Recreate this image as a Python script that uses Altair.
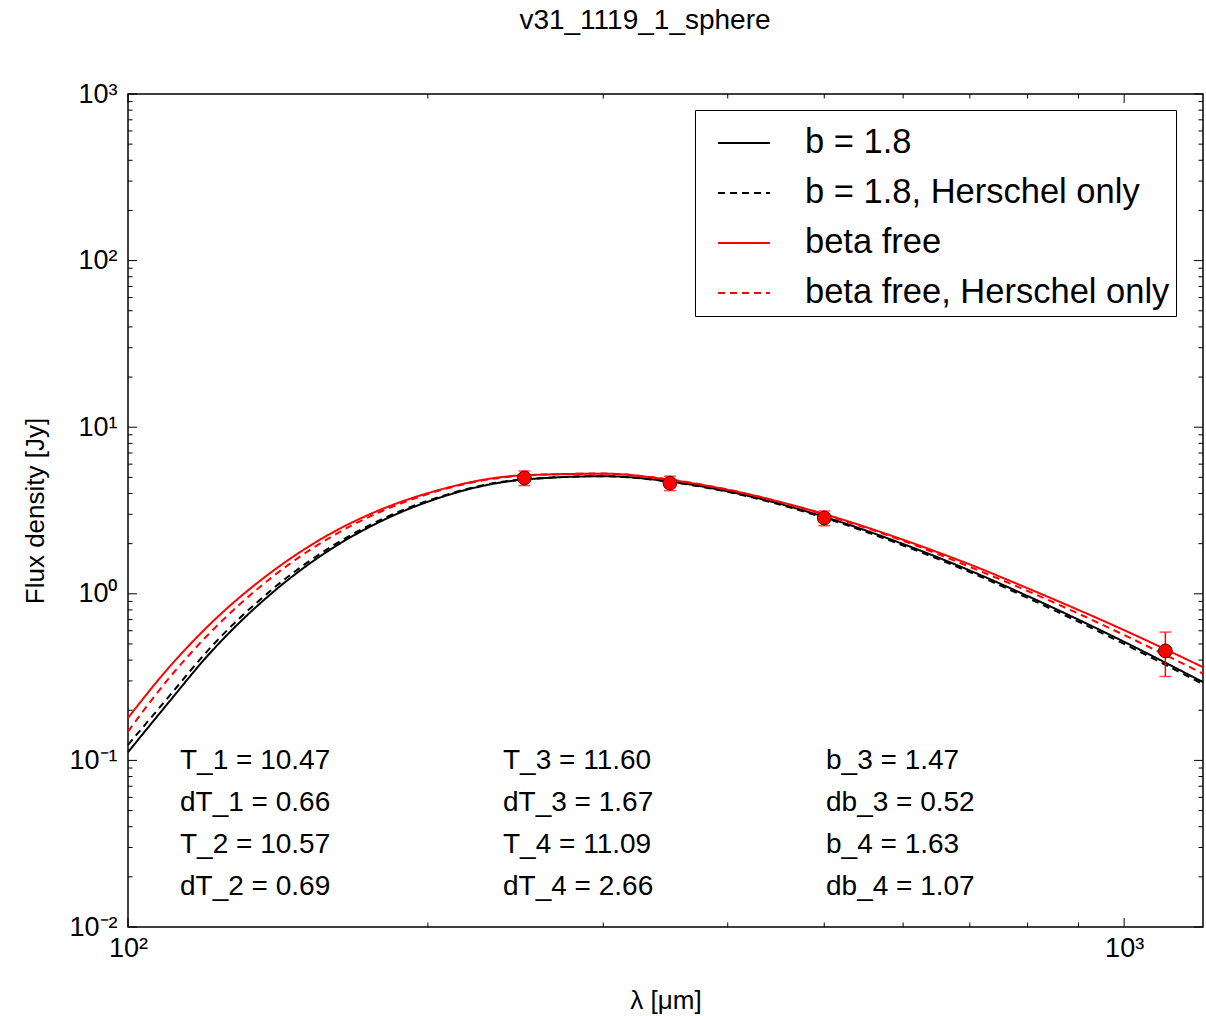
import altair as alt
import pandas as pd

# ---------------- data ----------------
wavelength = [100, 110, 120, 140, 160, 180, 200, 250, 300, 350, 400, 500, 600, 700, 800, 1000, 1200]
b18 = [0.112, 0.225, 0.42, 1.03, 1.86, 2.75, 3.57, 4.85, 5.08, 4.72, 4.12, 2.90, 1.99, 1.38, 0.97, 0.515, 0.295]
b18_herschel = [0.124, 0.243, 0.45, 1.08, 1.92, 2.81, 3.62, 4.87, 5.08, 4.70, 4.09, 2.86, 1.95, 1.35, 0.945, 0.50, 0.287]
beta_free = [0.180, 0.363, 0.63, 1.38, 2.31, 3.23, 4.02, 5.15, 5.26, 4.83, 4.21, 3.01, 2.11, 1.50, 1.08, 0.605, 0.363]
beta_free_herschel = [0.149, 0.313, 0.558, 1.28, 2.20, 3.14, 3.97, 5.12, 5.27, 4.85, 4.22, 2.98, 2.08, 1.45, 1.04, 0.566, 0.332]

series_names = ["b = 1.8", "b = 1.8, Herschel only", "beta free", "beta free, Herschel only"]
series_colors = ["black", "black", "red", "red"]
series_dash = [[1, 0], [7, 5], [1, 0], [7, 5]]

obs_wavelength = [250, 350, 500, 1100]
obs_flux = [4.96, 4.62, 2.85, 0.454]
obs_err = [0.5, 0.46, 0.29, 0.135]

col1 = ["T_1 = 10.47", "dT_1 = 0.66", "T_2 = 10.57", "dT_2 = 0.69"]
col2 = ["T_3 = 11.60", "dT_3 = 1.67", "T_4 = 11.09", "dT_4 = 2.66"]
col3 = ["b_3 = 1.47", "db_3 = 0.52", "b_4 = 1.63", "db_4 = 1.07"]

chart_title = "v31_1119_1_sphere"

x_major = [100, 1000]
x_minor = [200, 300, 400, 500, 600, 700, 800, 900]
y_major = [0.01, 0.1, 1, 10, 100, 1000]
y_minor = [0.02, 0.03, 0.04, 0.05, 0.06, 0.07, 0.08, 0.09,
           0.2, 0.3, 0.4, 0.5, 0.6, 0.7, 0.8, 0.9,
           2, 3, 4, 5, 6, 7, 8, 9,
           20, 30, 40, 50, 60, 70, 80, 90,
           200, 300, 400, 500, 600, 700, 800, 900]

# ---------------- layout ----------------
W, H = 1075, 833
FONT = "Liberation Sans"
X_TITLE = "λ [μm]"
Y_TITLE = "Flux density [Jy]"

xscale = alt.Scale(type="log", domain=[100, 1200], nice=False)
yscale = alt.Scale(type="log", domain=[0.01, 1000], nice=False)

rows = []
for name, vals in zip(series_names, [b18, b18_herschel, beta_free, beta_free_herschel]):
    for w, f in zip(wavelength, vals):
        rows.append({"wavelength": w, "flux": f, "series": name})
curves = pd.DataFrame(rows)

obs = pd.DataFrame({"wavelength": obs_wavelength, "flux": obs_flux, "err": obs_err})
obs["lo"] = obs["flux"] - obs["err"]
obs["hi"] = obs["flux"] + obs["err"]

sup_x = "datum.value < 500 ? '10²' : '10³'"
sup_y = ("(round(log(datum.value)/LN10) == -2) ? '10⁻²' : "
         "(round(log(datum.value)/LN10) == -1) ? '10⁻¹' : "
         "(round(log(datum.value)/LN10) == 0) ? '10⁰' : "
         "(round(log(datum.value)/LN10) == 1) ? '10¹' : "
         "(round(log(datum.value)/LN10) == 2) ? '10²' : '10³'")

legend = alt.Legend(
    title=None, orient="none", legendX=567, legendY=16,
    symbolType="stroke", symbolSize=2700, symbolStrokeWidth=1.8,
    labelFontSize=34.5, labelFont=FONT, labelColor="black", labelLimit=800,
    labelOffset=34, padding=6, rowPadding=6, symbolOffset=16,
    strokeColor="black", fillColor="white", cornerRadius=0,
)

lines = alt.Chart(curves).mark_line(strokeWidth=2, interpolate="monotone").encode(
    x=alt.X("wavelength:Q", scale=xscale, title=X_TITLE,
            axis=alt.Axis(values=x_major, labelExpr=sup_x, ticks=False, domain=False, grid=False,
                          labelFlush=False, labelFontSize=27, labelFont=FONT, labelColor="black",
                          labelPadding=8,
                          titleFontSize=26, titleFont=FONT, titleFontWeight="normal", titleColor="black",
                          titleY=73, titleBaseline="middle")),
    y=alt.Y("flux:Q", scale=yscale, title=Y_TITLE,
            axis=alt.Axis(values=y_major, labelExpr=sup_y, ticks=False, domain=False, grid=False,
                          labelFlush=False, labelFontSize=27, labelFont=FONT, labelColor="black",
                          labelPadding=11,
                          titleFontSize=26, titleFont=FONT, titleFontWeight="normal", titleColor="black",
                          titleX=-93, titleBaseline="middle")),
    color=alt.Color("series:N", scale=alt.Scale(domain=series_names, range=series_colors), legend=legend),
    strokeDash=alt.StrokeDash("series:N", scale=alt.Scale(domain=series_names, range=series_dash), legend=legend),
)

errbars = alt.Chart(obs).mark_rule(color="red", strokeWidth=1.5).encode(
    x=alt.X("wavelength:Q", scale=xscale, title=X_TITLE),
    y=alt.Y("lo:Q", scale=yscale, title=Y_TITLE),
    y2="hi:Q",
)
caps_lo = alt.Chart(obs).mark_tick(color="red", orient="horizontal", size=12, thickness=1.5).encode(
    x=alt.X("wavelength:Q", scale=xscale, title=X_TITLE),
    y=alt.Y("lo:Q", scale=yscale, title=Y_TITLE),
)
caps_hi = alt.Chart(obs).mark_tick(color="red", orient="horizontal", size=12, thickness=1.5).encode(
    x=alt.X("wavelength:Q", scale=xscale, title=X_TITLE),
    y=alt.Y("hi:Q", scale=yscale, title=Y_TITLE),
)
points = alt.Chart(obs).mark_point(filled=True, shape="circle", size=190, fill="red",
                                   stroke="#5a0000", strokeWidth=1, opacity=1).encode(
    x=alt.X("wavelength:Q", scale=xscale, title=X_TITLE),
    y=alt.Y("flux:Q", scale=yscale, title=Y_TITLE),
)


def xticks(vals, length, top):
    y0, y1 = (0, length) if top else (H, H - length)
    return alt.Chart(pd.DataFrame({"v": vals})).mark_rule(color="black", strokeWidth=1).encode(
        x=alt.X("v:Q", scale=xscale, title=X_TITLE), y=alt.value(y0), y2=alt.value(y1))


def yticks(vals, length, right):
    x0, x1 = (W, W - length) if right else (0, length)
    return alt.Chart(pd.DataFrame({"v": vals})).mark_rule(color="black", strokeWidth=1).encode(
        y=alt.Y("v:Q", scale=yscale, title=Y_TITLE), x=alt.value(x0), x2=alt.value(x1))


tick_layers = [
    xticks(x_major, 9, False), xticks(x_minor, 4.5, False),
    xticks(x_major, 9, True), xticks(x_minor, 4.5, True),
    yticks(y_major, 9, False), yticks(y_minor, 4.5, False),
    yticks(y_major, 9, True), yticks(y_minor, 4.5, True),
]


def text_col(lines_, xpx):
    return alt.Chart(pd.DataFrame({"t": [0]})).mark_text(
        align="left", baseline="alphabetic", fontSize=28, font=FONT, color="black",
        lineHeight=42,
    ).encode(x=alt.value(xpx), y=alt.value(675), text=alt.value(lines_))


texts = [text_col(col1, 52), text_col(col2, 375), text_col(col3, 698)]

title_mark = alt.Chart(pd.DataFrame({"t": [0]})).mark_text(
    align="center", baseline="middle", fontSize=28, font=FONT, color="black",
).encode(x=alt.value(517), y=alt.value(-73), text=alt.value(chart_title))

chart = alt.layer(lines, errbars, caps_lo, caps_hi, points, *tick_layers, *texts, title_mark).properties(
    width=W, height=H,
    autosize=alt.AutoSizeParams(type="none"),
    padding={"left": 128, "top": 94, "right": 3, "bottom": 89},
).configure(
    background="white",
    view=alt.ViewConfig(stroke="black", strokeWidth=1.5),
)

chart.save("out.html", embed_options={"renderer": "svg", "actions": False})
